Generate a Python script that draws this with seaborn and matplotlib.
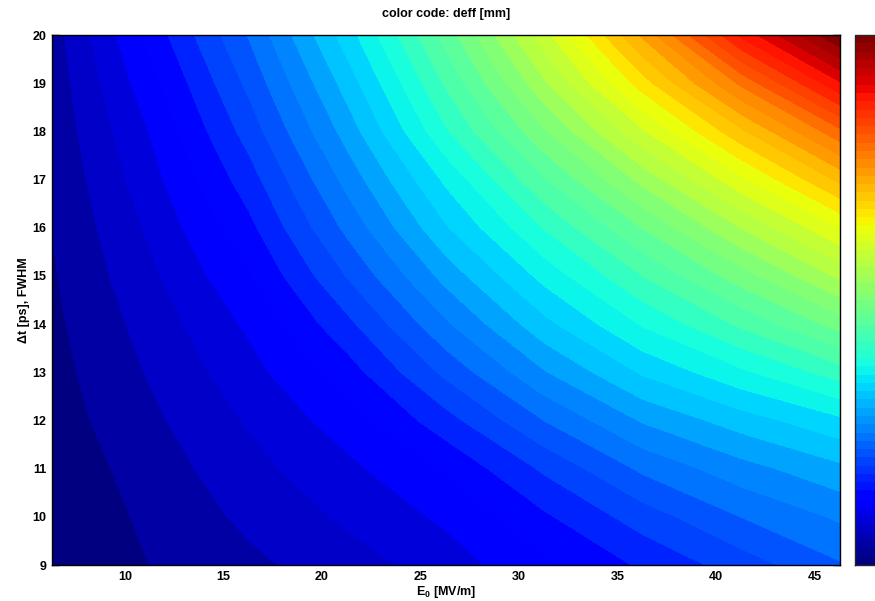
import numpy as np
import matplotlib
matplotlib.use("Agg")
import matplotlib.pyplot as plt
from matplotlib.colors import ListedColormap, Normalize
from matplotlib.colorbar import ColorbarBase
import seaborn as sns

# Peak field E0 [MV/m] and pulse length dt [ps] of the simulation grid
e0_values = [6.3, 11.3, 16.3, 21.3, 26.3, 31.3, 36.3, 41.3, 46.3]
dt_values = [9, 10, 11, 12, 13, 14, 15, 16, 17, 18, 19, 20]

# deff [mm], one list per pulse length (rows from dt = 9 ps up to dt = 20 ps)
deff_dt09 = [0.00, 0.16, 0.28, 0.40, 0.55, 0.76, 0.97, 1.18, 1.40]
deff_dt10 = [0.03, 0.19, 0.35, 0.50, 0.66, 0.92, 1.18, 1.42, 1.60]
deff_dt11 = [0.05, 0.23, 0.42, 0.59, 0.81, 1.13, 1.45, 1.67, 1.85]
deff_dt12 = [0.08, 0.28, 0.49, 0.71, 1.04, 1.42, 1.75, 1.97, 2.17]
deff_dt13 = [0.10, 0.33, 0.57, 0.87, 1.30, 1.72, 2.07, 2.33, 2.60]
deff_dt14 = [0.12, 0.38, 0.66, 1.06, 1.55, 2.00, 2.38, 2.71, 3.06]
deff_dt15 = [0.14, 0.44, 0.77, 1.27, 1.79, 2.26, 2.68, 3.08, 3.50]
deff_dt16 = [0.16, 0.50, 0.90, 1.46, 2.03, 2.53, 3.00, 3.47, 3.94]
deff_dt17 = [0.18, 0.57, 1.03, 1.63, 2.24, 2.82, 3.36, 3.90, 4.45]
deff_dt18 = [0.20, 0.64, 1.17, 1.80, 2.50, 3.13, 3.76, 4.38, 5.00]
deff_dt19 = [0.22, 0.73, 1.30, 1.96, 2.70, 3.44, 4.18, 4.92, 5.65]
deff_dt20 = [0.24, 0.84, 1.43, 2.13, 2.90, 3.72, 4.60, 5.55, 6.30]

x_ticks = [10, 15, 20, 25, 30, 35, 40, 45]
y_ticks = [9, 10, 11, 12, 13, 14, 15, 16, 17, 18, 19, 20]
cbar_ticks = [1, 2, 3, 4, 5, 6]
n_levels = 40

sns.set_theme(style="ticks")
plt.rcParams["font.family"] = ["Liberation Sans", "DejaVu Sans"]
plt.rcParams["font.weight"] = "bold"
plt.rcParams["text.color"] = "black"
plt.rcParams["axes.labelcolor"] = "black"
plt.rcParams["xtick.color"] = "black"
plt.rcParams["ytick.color"] = "black"
plt.rcParams["mathtext.fontset"] = "custom"
plt.rcParams["mathtext.rm"] = "Liberation Sans:bold"
plt.rcParams["mathtext.it"] = "Liberation Sans:bold"
plt.rcParams["mathtext.bf"] = "Liberation Sans:bold"
plt.rcParams["mathtext.default"] = "bf"

deff = np.array([deff_dt09, deff_dt10, deff_dt11, deff_dt12, deff_dt13, deff_dt14,
                 deff_dt15, deff_dt16, deff_dt17, deff_dt18, deff_dt19, deff_dt20])
E, DT = np.meshgrid(e0_values, dt_values)

# 64-step jet map, as a list of colours handed to seaborn's palette helper
jet_colors = plt.get_cmap("jet", 64)(np.arange(64))[:, :3]
jet64 = ListedColormap(sns.color_palette(jet_colors))
zmin, zmax = deff.min(), deff.max()

fig = plt.figure(figsize=(8.75, 6.01), dpi=100)
ax = fig.add_axes([52 / 875, 36 / 601, 788 / 875, 530 / 601])
levels = np.linspace(zmin, zmax, n_levels + 1)
ax.contourf(E, DT, deff, levels=levels, cmap=jet64, vmin=zmin, vmax=zmax, antialiased=False)

ax.set_xlim(e0_values[0], e0_values[-1])
ax.set_ylim(dt_values[0], dt_values[-1])
ax.set_xticks(x_ticks)
ax.set_yticks(y_ticks)
ax.tick_params(direction="in", top=True, right=True, length=5, width=1,
               labelsize=9, pad=4, colors="black")
for lab in ax.get_xticklabels() + ax.get_yticklabels():
    lab.set_fontweight("bold")
for sp in ax.spines.values():
    sp.set_linewidth(1.0)
    sp.set_color("black")

ax.set_title("color code: deff [mm]", fontsize=9, fontweight="bold", pad=13)
ax.set_xlabel("E$_0$ [MV/m]", fontsize=9, fontweight="bold", labelpad=1)
ax.set_ylabel("\u0394t [ps], FWHM", fontsize=9, fontweight="bold", labelpad=2)

# colour scale bar to the right of the map
cax = fig.add_axes([855 / 875, 36 / 601, 27 / 875, 530 / 601])
cb = ColorbarBase(cax, cmap=jet64, norm=Normalize(zmin, zmax), orientation="vertical")
cb.set_ticks(cbar_ticks)
cax.tick_params(direction="in", left=True, right=True, length=5, width=1,
                labelleft=False, labelright=False)
cb.outline.set_linewidth(1.0)

fig.savefig("out.png", dpi=100)
